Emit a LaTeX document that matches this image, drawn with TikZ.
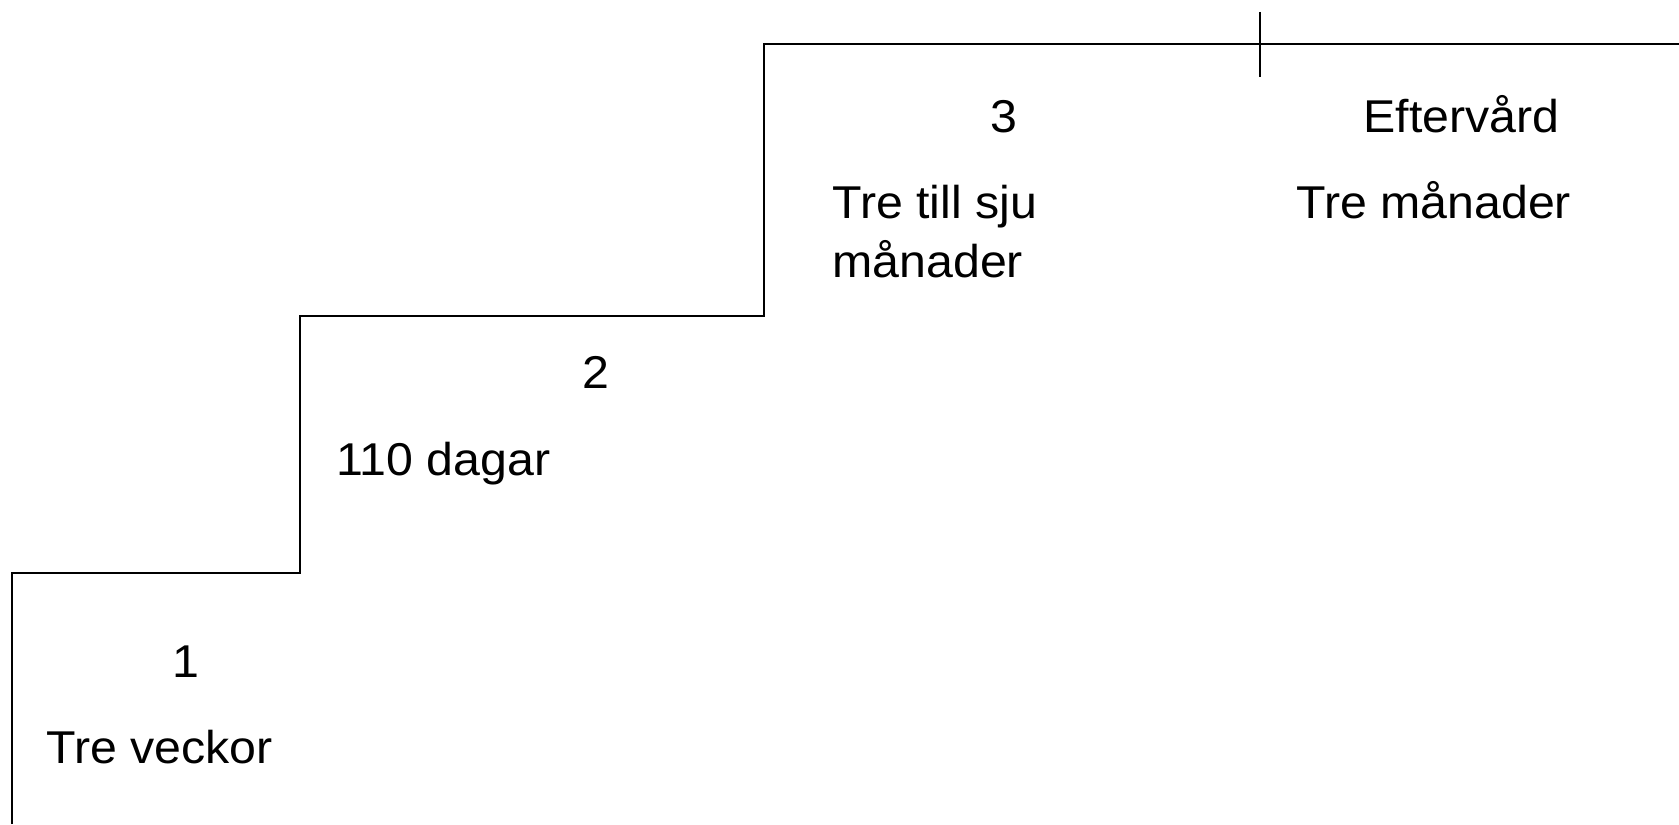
\documentclass[tikz,border=0pt]{standalone}
\usepackage{fontspec}
\setmainfont[FakeStretch=1.05]{Liberation Sans}
\begin{document}
\begin{tikzpicture}[x=0.5pt,y=-0.5pt,
  stair/.style={draw=black,line width=0.9pt},
  lbl/.style={inner sep=0pt,font=\fontsize{23}{29.5}\selectfont}]
\useasboundingbox (0,0) rectangle (1679,824);
% staircase
\draw[stair] (12,824) -- (12,573) -- (300,573) -- (300,316) -- (764,316) -- (764,44) -- (1679,44);
\draw[stair] (1260,12) -- (1260,77);
% labels
\node[lbl,anchor=base] (n1) at (186,677) {1};
\node[lbl,anchor=base west] (t1) at (46,763) {Tre veckor};
\node[lbl,anchor=base] (n2) at (596,388) {2};
\node[lbl,anchor=base west] (t2) at (336,475) {110 dagar};
\node[lbl,anchor=base] (n3) at (1004,133) {3};
\node[lbl,anchor=base west] (t3a) at (832,218) {Tre till sju};
\node[lbl,anchor=base west] (t3b) at (832,277) {månader};
\node[lbl,anchor=base west] (n4) at (1363,133) {Eftervård};
\node[lbl,anchor=base west] (t4) at (1296,218) {Tre månader};
\end{tikzpicture}
\end{document}
